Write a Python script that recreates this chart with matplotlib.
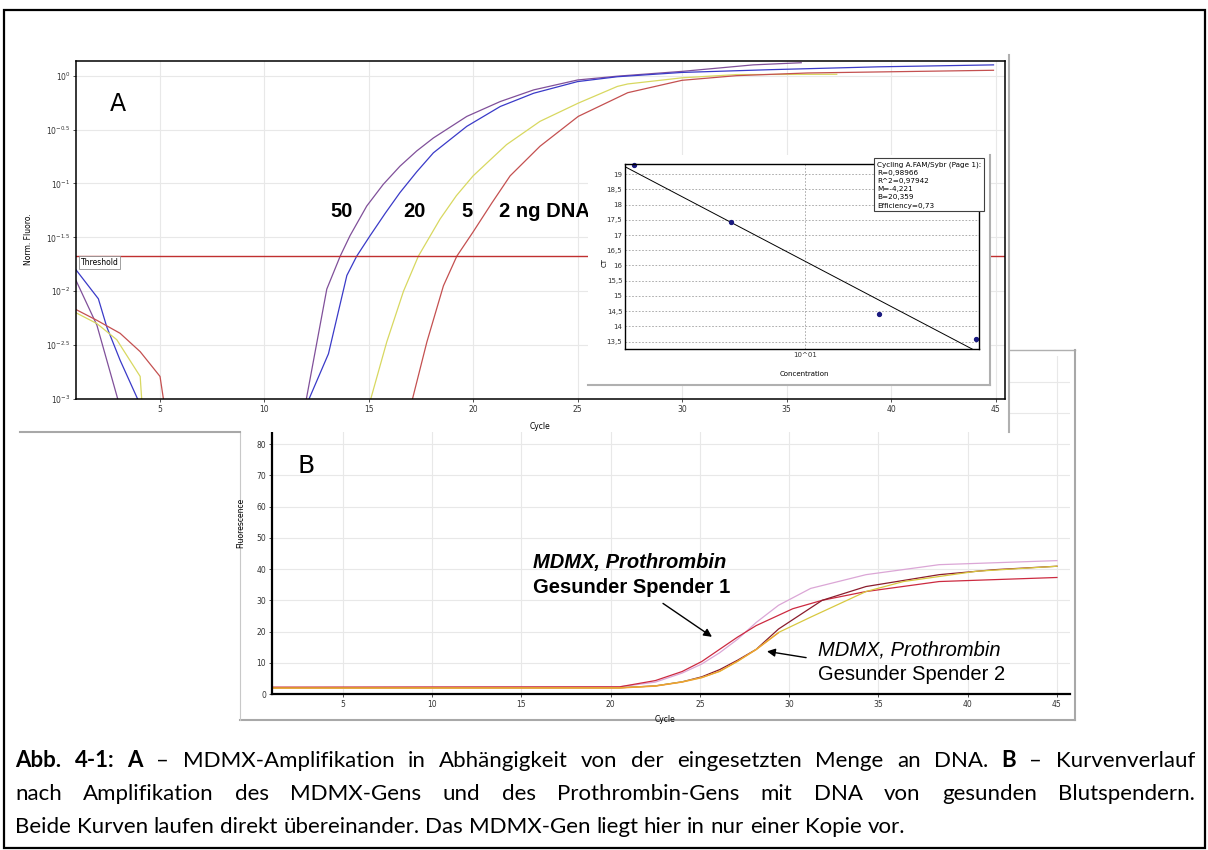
import math
import matplotlib
matplotlib.use('Agg')
import matplotlib.pyplot as plt
from matplotlib.patches import Rectangle
from matplotlib.lines import Line2D

W, H = 1208, 850

# ---- panel A: amplification curves (log scale), baseline part and rise part
a_labels = ['50', '20', '5', '2 ng DNA']
a_colors = ['#80509a', '#3a3ac8', '#d8d860', '#c45050']

a_lo_cyc = [[1.0, 2.0, 3.03],
            [1.0, 2.07, 2.47, 3.11, 4.0],
            [1.0, 2.0, 2.95, 4.07, 4.15],
            [1.0, 2.0, 3.11, 4.07, 5.02, 5.2]]
a_lo_val = [[0.0126, 0.00484, 0.00095],
            [0.0158, 0.00851, 0.00468, 0.00229, 0.00095],
            [0.00631, 0.00501, 0.00355, 0.00162, 0.00095],
            [0.00676, 0.00537, 0.00407, 0.00275, 0.00162, 0.00095]]

a_hi_cyc = [[12.0, 13.0, 13.64, 14.11, 14.91, 15.7, 16.5, 17.3, 18.1, 19.7, 21.3, 22.9, 25.0, 26.9, 30.0, 33.4, 35.7],
            [12.1, 13.08, 13.96, 14.43, 15.07, 15.8, 16.5, 17.3, 18.1, 19.7, 21.3, 22.9, 25.0, 26.9, 30.0, 34.3, 39.4, 44.9],
            [15.07, 15.87, 16.67, 17.38, 18.42, 19.2, 20.0, 21.6, 23.2, 25.03, 26.9, 27.4, 30.0, 32.6, 37.4],
            [17.07, 17.79, 18.58, 19.22, 20.0, 20.9, 21.77, 23.2, 25.03, 27.4, 30.0, 32.6, 36.0, 44.9]]
a_hi_val = [[0.00095, 0.01047, 0.02113, 0.03273, 0.06166, 0.098, 0.1445, 0.200, 0.2642, 0.4188, 0.5754, 0.7379, 0.912, 0.989, 1.096, 1.259, 1.318],
            [0.00095, 0.00263, 0.0140, 0.02113, 0.03273, 0.053, 0.0822, 0.128, 0.1923, 0.3388, 0.5176, 0.6871, 0.881, 0.9772, 1.0715, 1.1376, 1.2078, 1.2589],
            [0.00095, 0.00339, 0.0100, 0.02113, 0.04677, 0.077, 0.1175, 0.2291, 0.3767, 0.5559, 0.7943, 0.8375, 0.955, 1.023, 1.030],
            [0.00095, 0.00339, 0.01122, 0.02113, 0.03548, 0.066, 0.1175, 0.2213, 0.4188, 0.695, 0.9057, 1.0, 1.059, 1.122]]

threshold = 0.0211
a_ytick_exp = [0, -0.5, -1, -1.5, -2, -2.5, -3]
a_xticks = [5, 10, 15, 20, 25, 30, 35, 40, 45]

# ---- inset: standard curve
conc = [2, 5, 20, 50]
ct = [19.3, 17.42, 14.42, 13.59]
fit_m, fit_b = -4.221, 20.359
inset_yticks = [13.5, 14, 14.5, 15, 15.5, 16, 16.5, 17, 17.5, 18, 18.5, 19]
inset_info = ['Cycling A.FAM/Sybr (Page 1):', 'R=0,98966', 'R^2=0,97942',
              'M=-4,221', 'B=20,359', 'Efficiency=0,73']

# ---- panel B: linear fluorescence curves
b_colors = ['#dba6d6', '#cc2a40', '#8a1c2c', '#d8c840', '#f0a030']
b_cyc = [[1, 20.5, 22.5, 24.0, 25.1, 26.1, 27.1, 28.15, 29.4, 31.2, 34.3, 38.4, 45],
         [1, 20.5, 22.5, 24.0, 25.1, 26.1, 27.1, 28.15, 30.2, 31.85, 34.3, 38.4, 45],
         [1, 20.5, 22.5, 24.0, 25.1, 26.1, 27.1, 28.15, 29.4, 31.85, 34.3, 38.4, 41.5, 45],
         [1, 20.5, 22.5, 24.0, 25.1, 26.1, 27.1, 28.15, 29.4, 31.2, 34.3, 36.4, 40.5, 45],
         [1, 20.5, 22.5, 24.0, 25.1, 26.1, 27.1, 28.15, 29.4]]
b_val = [[2.0, 2.3, 3.8, 6.7, 9.6, 13.2, 17.5, 22.9, 28.4, 33.8, 38.2, 41.4, 42.7],
         [2.2, 2.3, 4.3, 7.2, 10.4, 14.3, 18.2, 21.9, 27.3, 30.0, 32.8, 36.0, 37.3],
         [2.0, 2.0, 2.6, 3.9, 5.5, 7.8, 10.8, 14.3, 20.8, 30.0, 34.4, 38.2, 39.8, 40.9],
         [1.9, 2.0, 2.6, 3.9, 5.3, 7.2, 10.4, 14.3, 19.7, 24.6, 32.8, 36.0, 39.3, 40.9],
         [1.9, 1.9, 2.5, 3.8, 5.2, 7.3, 10.5, 14.2, 19.6]]
b_yticks = [0, 10, 20, 30, 40, 50, 60, 70, 80, 90, 100]
b_ylabels = ['0', '10', '20', '30', '40', '50', '60', '70', '80', '', '']
b_xticks = [5, 10, 15, 20, 25, 30, 35, 40, 45]

caption = [
    [('Abb.', True), ('4-1:', True), ('A', True), ('–', False), ('MDMX-Amplifikation', False), ('in', False),
     ('Abhängigkeit', False), ('von', False), ('der', False), ('eingesetzten', False), ('Menge', False),
     ('an', False), ('DNA.', False), ('B', True), ('–', False), ('Kurvenverlauf', False)],
    [(w, False) for w in 'nach Amplifikation des MDMX-Gens und des Prothrombin-Gens mit DNA von gesunden Blutspendern.'.split()],
    [(w, False) for w in 'Beide Kurven laufen direkt übereinander. Das MDMX-Gen liegt hier in nur einer Kopie vor.'.split()],
]

plt.rcParams['font.family'] = ['DejaVu Sans']
fig = plt.figure(figsize=(W / 100, H / 100), dpi=100)


def box(l, t, r, b):
    return [l / W, 1 - b / H, (r - l) / W, (b - t) / H]


def fline(x0, y0, x1, y1, color, lw=1.2, z=1):
    fig.add_artist(Line2D([x0 / W, x1 / W], [1 - y0 / H, 1 - y1 / H], color=color, lw=lw, zorder=z))


def window(l, t, r, b, z):
    fig.add_artist(Rectangle((l / W, 1 - b / H), (r - l) / W, (b - t) / H,
                             transform=fig.transFigure, facecolor='white', edgecolor='none', zorder=z))


# outer frame
fig.add_artist(Rectangle((4 / W, 1 - 848 / H), 1201 / W, 838 / H, transform=fig.transFigure,
                         fill=False, edgecolor='black', lw=1.6, zorder=10))

grid_c = '#e8e8e8'
small = 5.5

# ---------------- panel B (behind A)
window(240, 350, 1075, 720, -1)
fline(240, 350, 1075, 350, '#b0b0b0', 1.0, -0.5)
fline(1075, 350, 1075, 720, '#a8a8a8', 1.5, -0.5)
fline(240, 720, 1075, 720, '#a8a8a8', 1.5, -0.5)
fline(240, 430, 240, 720, '#c8c8c8', 0.8, -0.5)

axb = fig.add_axes(box(271.6, 356, 1070, 694), zorder=0)
for c, v, col in zip(b_cyc, b_val, b_colors):
    axb.plot(c, v, color=col, lw=0.9)
axb.set_xlim(1, 45.73)
axb.set_ylim(0, 108.2)
axb.set_xticks(b_xticks)
axb.set_yticks(b_yticks)
axb.set_yticklabels(b_ylabels)
axb.tick_params(labelsize=small, length=2, width=0.6, pad=2, colors='#333333')
axb.grid(True, color=grid_c, lw=0.8)
axb.set_axisbelow(True)
for s in ['top', 'right']:
    axb.spines[s].set_visible(False)
for s in ['left', 'bottom']:
    axb.spines[s].set_linewidth(1.6)
axb.set_xlabel('Cycle', fontsize=small)
axb.xaxis.set_label_coords(0.493, -0.062)
axb.set_ylabel('Fluorescence', fontsize=small)
axb.yaxis.set_label_coords(-0.033, 0.506)

lab_font = ['Liberation Sans', 'DejaVu Sans']
axb.text(15.64, 42.0, 'MDMX, Prothrombin', fontsize=14.5, fontweight='bold', style='italic',
         family=lab_font, va='center')
axb.text(15.64, 34.0, 'Gesunder Spender 1', fontsize=14.5, fontweight='bold', family=lab_font, va='center')
axb.annotate('', xy=(25.8, 17.8), xytext=(22.8, 29.5),
             arrowprops=dict(arrowstyle='-|>', color='black', lw=1.0, mutation_scale=12))
axb.text(31.6, 14.1, 'MDMX, Prothrombin', fontsize=14.5, style='italic', family=lab_font, va='center')
axb.text(31.6, 6.1, 'Gesunder Spender 2', fontsize=14.5, family=lab_font, va='center')
axb.annotate('', xy=(28.6, 13.8), xytext=(31.1, 11.5),
             arrowprops=dict(arrowstyle='-|>', color='black', lw=1.0, mutation_scale=12))
fig.text(298 / W, 1 - 466 / H, 'B', fontsize=18, va='center', ha='left', zorder=6)

# ---------------- panel A
window(20, 15, 1009, 432, 1)
fline(1009, 55, 1009, 432, '#b0b0b0', 1.5, 1.1)
fline(20, 432, 240, 432, '#a8a8a8', 1.5, 1.1)

axa = fig.add_axes(box(76, 61, 1005, 399), zorder=2)
axa.set_yscale('log')
for cl, vl, ch, vh, col in zip(a_lo_cyc, a_lo_val, a_hi_cyc, a_hi_val, a_colors):
    axa.plot(cl, vl, color=col, lw=0.9)
    axa.plot(ch, vh, color=col, lw=0.9)
axa.axhline(threshold, color='#c03030', lw=1.0)
axa.set_xlim(1, 45.45)
axa.set_ylim(1e-3, 10 ** 0.136)
axa.set_yticks([10.0 ** e for e in a_ytick_exp])
axa.set_yticklabels([r'$10^{%g}$' % e for e in a_ytick_exp])
axa.minorticks_off()
axa.set_xticks(a_xticks)
axa.tick_params(labelsize=small, length=2, width=0.6, pad=2, colors='#333333')
axa.grid(True, color=grid_c, lw=0.8)
axa.set_axisbelow(True)
for s in axa.spines.values():
    s.set_linewidth(1.1)
axa.set_xlabel('Cycle', fontsize=small)
axa.xaxis.set_label_coords(0.5, -0.068)
axa.set_ylabel('Norm. Fluoro.', fontsize=small)
axa.yaxis.set_label_coords(-0.046, 0.473)
axa.text(0.005, 0.405, 'Threshold', transform=axa.transAxes, fontsize=5.5, va='center',
         bbox=dict(boxstyle='square,pad=0.25', facecolor='white', edgecolor='#909090', lw=0.6))

lab_x = [13.73, 17.17, 19.7, 23.4]
for x, t in zip(lab_x, a_labels):
    axa.text(x, 0.0553, t, fontsize=14.5, fontweight='bold', family=lab_font, ha='center', va='center')
fig.text(110 / W, 1 - 104 / H, 'A', fontsize=17, va='center', ha='left', zorder=6)

# ---------------- inset standard curve
window(588, 155, 990, 385, 3)
fline(990, 155, 990, 385, '#b0b0b0', 1.5, 3.1)
fline(588, 385, 990, 385, '#b0b0b0', 1.5, 3.1)

axi = fig.add_axes(box(625, 164, 979, 349), zorder=4)
axi.set_xscale('log')
xl = (1.84, 51.3)
axi.plot(xl, [fit_m * math.log10(x) + fit_b for x in xl], color='black', lw=0.7)
axi.plot(conc, ct, 'o', color='#1a1a80', ms=2.8, clip_on=False)
axi.set_xlim(*xl)
axi.set_ylim(13.26, 19.33)
axi.set_yticks(inset_yticks)
axi.set_yticklabels([('%g' % v).replace('.', ',') for v in inset_yticks])
axi.minorticks_off()
axi.set_xticks([10])
axi.set_xticklabels(['10^01'])
axi.tick_params(labelsize=5, length=0, pad=2, colors='#333333')
axi.grid(True, color='#a0a0a0', lw=0.6, ls=(0, (2, 2)))
axi.set_axisbelow(True)
for s in axi.spines.values():
    s.set_linewidth(1.0)
axi.set_xlabel('Concentration', fontsize=5)
axi.xaxis.set_label_coords(0.508, -0.12)
axi.set_ylabel('CT', fontsize=5)
axi.yaxis.set_label_coords(-0.05, 0.47)
fig.text(877 / W, 1 - 161 / H, '\n'.join(inset_info), fontsize=5.2, va='top', ha='left',
         linespacing=1.45, zorder=6,
         bbox=dict(boxstyle='square,pad=0.35', facecolor='white', edgecolor='#404040', lw=0.8))

# ---------------- caption (justified like the source document)
renderer = fig.canvas.get_renderer()
cap_font = ['Lato', 'DejaVu Sans']


def measure(s, fs, bold=False):
    t = fig.text(0, 0, s, fontsize=fs, family=cap_font, fontweight='bold' if bold else 'normal')
    w = t.get_window_extent(renderer).width
    t.remove()
    return w


def natural_width(words, fs):
    sp = measure('x x', fs) - measure('xx', fs)
    return sum(measure(w, fs, b) for w, b in words) + (len(words) - 1) * sp


base = 14
f3 = 835 / natural_width(caption[2], base)
f1 = 1140 / natural_width(caption[0], base)
cap_fs = base * math.sqrt(f1 * f3)

x_left, x_right = 15, 1195
baselines = [767, 800, 833]
space = measure('x x', cap_fs) - measure('xx', cap_fs)
for i, (words, yb) in enumerate(zip(caption, baselines)):
    widths = [measure(w, cap_fs, b) for w, b in words]
    gap = (x_right - x_left - sum(widths)) / (len(words) - 1) if i < 2 else space
    x = x_left
    for (w, b), wd in zip(words, widths):
        fig.text(x / W, 1 - yb / H, w, fontsize=cap_fs, family=cap_font,
                 fontweight='bold' if b else 'normal', va='baseline', ha='left', zorder=6)
        x += wd + gap

fig.savefig('out.png', dpi=100)
